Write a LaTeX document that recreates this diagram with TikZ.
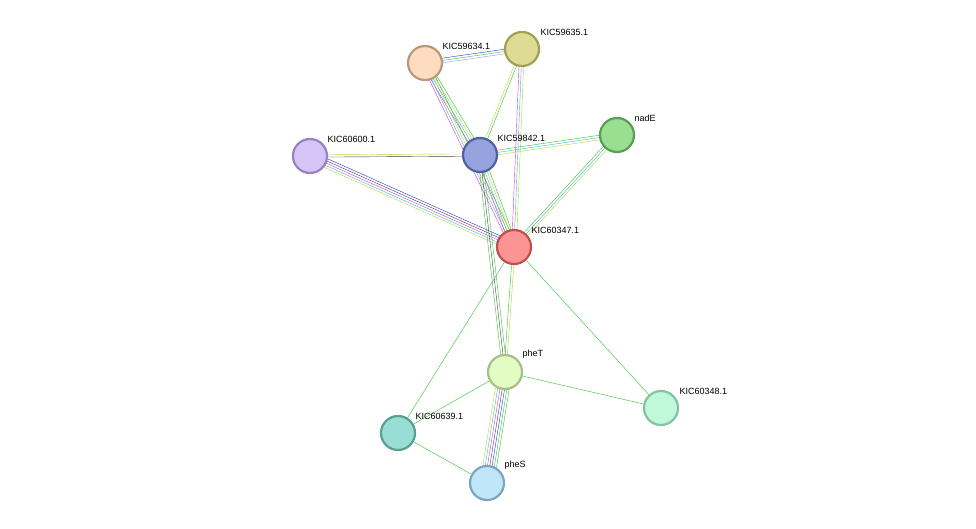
\documentclass[tikz,border=0pt]{standalone}
\usepackage{fontspec}
\setmainfont{Liberation Sans}
\usetikzlibrary{
  calc,         % Calculations $...$
  backgrounds,  % Predefined layer named "background"
}
\definecolor{tmine}{HTML}{B8D430}
\definecolor{dbase}{HTML}{30B8E0}
\definecolor{exper}{HTML}{E030D8}
\definecolor{nbhood}{HTML}{30C030}
\definecolor{coocc}{HTML}{2030F0}
\definecolor{homol}{HTML}{9090F8}
\definecolor{coexp}{HTML}{404040}
% Bundle of parallel evidence lines between two nodes
\newcommand{\bundle}[4]{
  \foreach \c [count=\i] in {#4} {
    \pgfmathsetmacro\off{(\i-(#3+1)/2)*2.3}
    \draw[\c] ($(#1)!\off pt!90:(#2)$) -- ($(#2)!\off pt!-90:(#1)$);
  }
}
\tikzset{
  font=\small,
  protein/.style={
    circle,
    minimum size=34pt,
    inner sep=0pt,
    line width=2.2pt
  },
  lbl/.style={
    anchor=south west,
    inner sep=1pt
  }
}
\begin{document}
\begin{tikzpicture}[x=1pt,y=-1pt,line width=1.2pt]
\useasboundingbox (0,0) rectangle (976,529);
\node[protein,fill={rgb,255:red,253;green,220;blue,192},draw={rgb,255:red,184;green,154;blue,122}] (k634) at (425,63) {};
\node[protein,fill={rgb,255:red,222;green,220;blue,148},draw={rgb,255:red,162;green,160;blue,85}] (k635) at (522,49) {};
\node[protein,fill={rgb,255:red,213;green,196;blue,248},draw={rgb,255:red,154;green,130;blue,192}] (k600) at (310,156) {};
\node[protein,fill={rgb,255:red,150;green,163;blue,222},draw={rgb,255:red,80;green,96;blue,160}] (k842) at (480,155) {};
\node[protein,fill={rgb,255:red,154;green,222;blue,146},draw={rgb,255:red,90;green,158;blue,85}] (nadE) at (617,135) {};
\node[protein,fill={rgb,255:red,252;green,148;blue,148},draw={rgb,255:red,192;green,80;blue,80}] (k347) at (514,247) {};
\node[protein,fill={rgb,255:red,226;green,252;blue,196},draw={rgb,255:red,166;green,192;blue,136}] (pheT) at (505,372) {};
\node[protein,fill={rgb,255:red,192;green,248;blue,218},draw={rgb,255:red,132;green,196;blue,160}] (k348) at (661,408) {};
\node[protein,fill={rgb,255:red,152;green,222;blue,212},draw={rgb,255:red,90;green,158;blue,148}] (k639) at (398,433) {};
\node[protein,fill={rgb,255:red,192;green,230;blue,250},draw={rgb,255:red,126;green,164;blue,190}] (pheS) at (487,483) {};

\node[lbl] at ($(k634)+(16,-12)$) {KIC59634.1};
\node[lbl] at ($(k635)+(17,-12)$) {KIC59635.1};
\node[lbl] at ($(k600)+(16,-12)$) {KIC60600.1};
\node[lbl] at ($(k842)+(16,-12)$) {KIC59842.1};
\node[lbl] at ($(nadE)+(16,-12)$) {nadE};
\node[lbl] at ($(k347)+(16,-12)$) {KIC60347.1};
\node[lbl] at ($(pheT)+(16,-12)$) {pheT};
\node[lbl] at ($(k348)+(17,-12)$) {KIC60348.1};
\node[lbl] at ($(k639)+(16,-12)$) {KIC60639.1};
\node[lbl] at ($(pheS)+(16,-12)$) {pheS};

\begin{scope}[on background layer]
\bundle{k634}{k635}{3}{homol,nbhood,coocc}
\bundle{k634}{k842}{4}{exper,dbase,tmine,nbhood}
\bundle{k634}{k347}{4}{exper,dbase,tmine,nbhood}
\bundle{k635}{k842}{2}{tmine,nbhood}
\bundle{k635}{k347}{3}{exper,dbase,tmine}
\bundle{k842}{nadE}{3}{tmine,dbase,nbhood}
\bundle{nadE}{k347}{3}{nbhood,dbase,tmine}
\bundle{k600}{k842}{2}{coexp,tmine}
\bundle{k600}{k347}{5}{tmine,dbase,exper,coexp,coocc}
\bundle{k842}{k347}{4}{exper,dbase,tmine,nbhood}
\bundle{k842}{pheT}{3}{nbhood,coexp,nbhood}
\bundle{k347}{pheT}{2}{nbhood,tmine}
\bundle{pheT}{pheS}{7}{tmine,dbase,exper,coexp,coocc,nbhood,nbhood}
\draw[nbhood] (k347) -- (k639);
\draw[nbhood] (k347) -- (k348);
\draw[nbhood] (pheT) -- (k348);
\draw[nbhood] (pheT) -- (k639);
\draw[nbhood] (k639) -- (pheS);
\end{scope}
\end{tikzpicture}
\end{document}
